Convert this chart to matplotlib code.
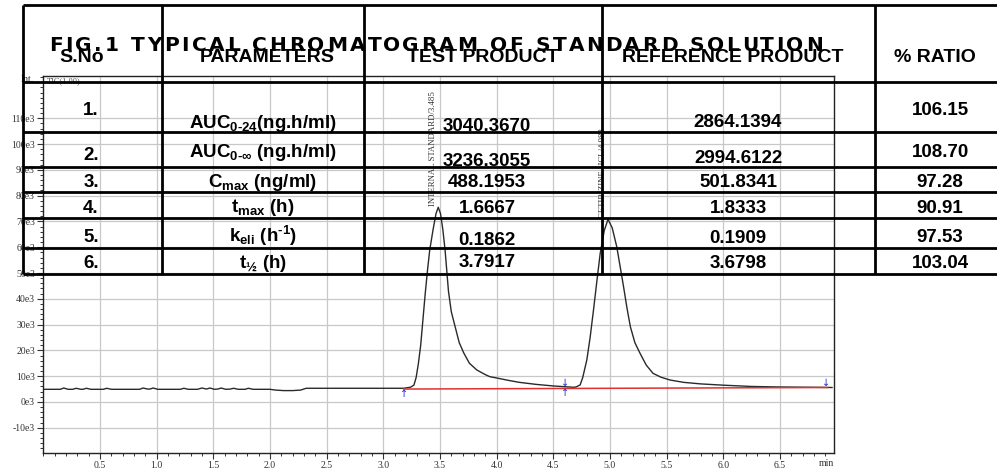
import matplotlib
matplotlib.use("Agg")
import numpy as np
import matplotlib.pyplot as plt
from matplotlib.font_manager import FontProperties
from matplotlib.ticker import FixedLocator, MultipleLocator

plt.rcParams["mathtext.fontset"] = "custom"
plt.rcParams["mathtext.rm"] = "Liberation Sans:bold"
plt.rcParams["mathtext.it"] = "Liberation Sans:bold"
plt.rcParams["mathtext.bf"] = "Liberation Sans:bold"
plt.rcParams["mathtext.sf"] = "Liberation Sans:bold"

# TIC trace: retention time (min) and intensity (x1000 counts)
time_min = [0.00, 0.10, 0.15, 0.18, 0.22, 0.26, 0.29, 0.33, 0.35, 0.38, 0.42, 0.50,
            0.53, 0.56, 0.60, 0.80, 0.85, 0.88, 0.92, 0.94, 0.97, 1.01, 1.18, 1.21,
            1.24, 1.28, 1.36, 1.40, 1.44, 1.47, 1.51, 1.54, 1.57, 1.61, 1.65, 1.68,
            1.72, 1.78, 1.81, 1.85, 2.00, 2.05, 2.12, 2.20, 2.27, 2.32, 2.50, 2.80,
            3.00, 3.18, 3.24, 3.27, 3.29, 3.31, 3.33, 3.35, 3.37, 3.39, 3.41, 3.44,
            3.465, 3.485, 3.505, 3.525, 3.545, 3.575, 3.60, 3.635, 3.67, 3.71, 3.76,
            3.825, 3.90, 3.94, 4.00, 4.10, 4.20, 4.35, 4.50, 4.60, 4.68, 4.70, 4.737,
            4.76, 4.796, 4.825, 4.855, 4.885, 4.914, 4.95, 4.983, 5.02, 5.06, 5.09,
            5.12, 5.15, 5.18, 5.22, 5.265, 5.32, 5.38, 5.45, 5.53, 5.65, 5.80, 6.00,
            6.25, 6.50, 6.75, 6.96]
tic_k = [4.9, 4.9, 4.9, 5.4, 4.9, 4.9, 5.3, 4.9, 4.9, 5.3, 4.9, 4.9,
         4.9, 5.3, 4.9, 4.9, 4.9, 5.4, 5.0, 5.0, 5.4, 4.9, 4.9, 4.9,
         5.3, 4.9, 4.9, 5.4, 5.0, 5.4, 4.9, 5.0, 5.4, 4.9, 5.0, 5.3,
         4.9, 4.9, 5.3, 4.9, 4.9, 4.6, 4.4, 4.4, 4.6, 5.3, 5.3, 5.3,
         5.3, 5.3, 5.7, 6.5, 9.5, 15.0, 22.0, 32.0, 42.0, 51.0, 59.0, 67.0,
         73.0, 75.5, 73.0, 67.0, 59.0, 43.0, 35.0, 29.0, 23.0, 19.0, 15.0,
         12.4, 10.6, 9.8, 9.3, 8.4, 7.6, 6.8, 6.2, 5.9, 5.7, 5.8, 6.6,
         9.5, 16.3, 25.0, 35.7, 47.0, 57.6, 66.5, 70.8, 67.5, 60.2, 52.5,
         44.7, 36.5, 29.2, 23.0, 18.9, 14.3, 11.1, 9.6, 8.5, 7.6, 7.0, 6.5,
         6.0, 5.8, 5.7, 5.6]

peak_names = ["INTERNAL STANDARD", "CETIRIZINE HCL"]
peak_rt = [3.485, 4.983]

# integration baseline and its start / split / end marks
base_t = [3.18, 6.92]
base_k = [5.0, 5.6]
mark_t = [3.18, 4.60, 6.91]
mark_kind = ["up", "both", "down"]

x_ticks = [0.5, 1.0, 1.5, 2.0, 2.5, 3.0, 3.5, 4.0, 4.5, 5.0, 5.5, 6.0, 6.5]
y_ticks = [-10, 0, 10, 20, 30, 40, 50, 60, 70, 80, 90, 100, 110]

# results table
headers = ["S.No", "PARAMETERS", "TEST PRODUCT", "REFERENCE PRODUCT", "% RATIO"]
sno = ["1.", "2.", "3.", "4.", "5.", "6."]
params = ["AUC$_{0\\text{-}24}$(ng.h/ml)", "AUC$_{0\\text{-}\\infty}$ (ng.h/ml)",
          "C$_{max}$ (ng/ml)", "t$_{max}$ (h)", "k$_{eli}$ (h$^{\\text{-}1}$)", "t$_{½}$ (h)"]
test = ["3040.3670", "3236.3055", "488.1953", "1.6667", "0.1862", "3.7917"]
ref = ["2864.1394", "2994.6122", "501.8341", "1.8333", "0.1909", "3.6798"]
ratio = ["106.15", "108.70", "97.28", "90.91", "97.53", "103.04"]

title = "FIG.1 TYPICAL CHROMATOGRAM OF STANDARD SOLUTION"

W, H = 997, 470
fig = plt.figure(figsize=(W / 100, H / 100), dpi=100)
fig.patch.set_facecolor("white")

# ---- chromatogram ----
ax = fig.add_axes([43.3 / W, 17 / H, (834 - 43.3) / W, (453 - 76) / H])
ax.set_zorder(1)
ax.set_xlim(0, 6.977)
ax.set_ylim(-19.8, 126.4)

serif = "Liberation Serif"
ax.xaxis.set_major_locator(FixedLocator(x_ticks))
ax.yaxis.set_major_locator(FixedLocator(y_ticks))
ax.xaxis.set_minor_locator(MultipleLocator(0.1))
ax.yaxis.set_minor_locator(MultipleLocator(2))
ax.set_xticklabels([f"{v:.1f}" for v in x_ticks], family=serif, fontsize=7, color="#333")
ax.set_yticklabels([f"{v}e3" for v in y_ticks], family=serif, fontsize=7, color="#333")
ax.tick_params(which="major", direction="out", length=4, width=0.8, color="#333", pad=2)
ax.tick_params(which="minor", direction="out", length=2.5, width=0.7, color="#333")
ax.grid(True, which="major", color="#c8c8c8", lw=0.9)
ax.set_axisbelow(True)
for s in ax.spines.values():
    s.set_color("#222")
    s.set_linewidth(1.0)

ax.plot(time_min, tic_k, color="#2a2a2a", lw=1.0)
ax.plot(base_t, base_k, color="#e03030", lw=1.1)

for t, kind in zip(mark_t, mark_kind):
    yb = np.interp(t, base_t, base_k)
    if kind in ("up", "both"):
        ax.text(t, yb, "↑", color="#2030d0", fontsize=7, ha="center", va="top",
                family="DejaVu Sans")
    if kind in ("down", "both"):
        ax.text(t, yb, "↓", color="#2030d0", fontsize=7, ha="center", va="bottom",
                family="DejaVu Sans")

for name, rt in zip(peak_names, peak_rt):
    top = np.interp(rt, time_min, tic_k)
    ax.annotate(f"{name}/{rt:.3f}", (rt, top), xytext=(-1, 1), textcoords="offset points",
                rotation=90, ha="right", va="bottom", family=serif, fontsize=6.3,
                color="#333")

ax.text(0.99, -0.015, "min", transform=ax.transAxes, ha="center", va="top",
        family=serif, fontsize=7, color="#333")
ax.text(-0.012, 0.99, "Int.", transform=ax.transAxes, ha="right", va="center",
        family=serif, fontsize=7, color="#333")
ax.text(0.004, 0.997, "TIC(1.00)", transform=ax.transAxes, ha="left", va="top",
        family=serif, fontsize=6, color="#555")

# ---- table overlay in pixel coordinates ----
ov = fig.add_axes([0, 0, 1, 1])
ov.set_zorder(2)
ov.set_xlim(0, W)
ov.set_ylim(H, 0)
ov.axis("off")
ov.patch.set_visible(False)

col_edges = [23, 162, 364, 602, 875]
row_edges = [5, 82, 132, 167, 192, 218, 248, 274]
ov.hlines(row_edges, 23, W + 5, color="black", lw=2.0)
ov.vlines(col_edges, row_edges[0], row_edges[-1], color="black", lw=2.0)

# letter-spaced title across the header row
sans = "Liberation Sans"
title_prop = FontProperties(family="DejaVu Sans", weight="bold", size=14.5)
renderer = fig.canvas.get_renderer()
def text_w(s):
    w, _, _ = renderer.get_text_width_height_descent(s, title_prop, ismath=False)
    return w
x0, x1 = 49, 823
track = (x1 - x0 - text_w(title)) / (len(title) - 1)
for i, ch in enumerate(title):
    if ch == " ":
        continue
    ov.text(x0 + text_w(title[:i]) + i * track, 51, ch, fontproperties=title_prop,
            ha="left", va="baseline", color="black")

head_x = [82, 267, 483, 733, 935]
for x, h in zip(head_x, headers):
    ov.text(x, 62, h, family=sans, weight="bold", fontsize=14, ha="center",
            va="baseline")

columns = [sno, params, test, ref, ratio]
col_x = [91, 263, 487, 738, 940]
col_base = [
    [115, 160, 187, 213, 242, 268],
    [128, 157, 187, 212, 242, 268],
    [131, 166, 187, 213, 245, 267],
    [127, 163, 187, 213, 243, 268],
    [115, 157, 187, 213, 242, 268],
]
for texts, x, ys in zip(columns, col_x, col_base):
    for s, y in zip(texts, ys):
        ov.text(x, y, s, family=sans, weight="bold", fontsize=13.5, ha="center",
                va="baseline")

fig.savefig("out.png", dpi=100, facecolor="white")
